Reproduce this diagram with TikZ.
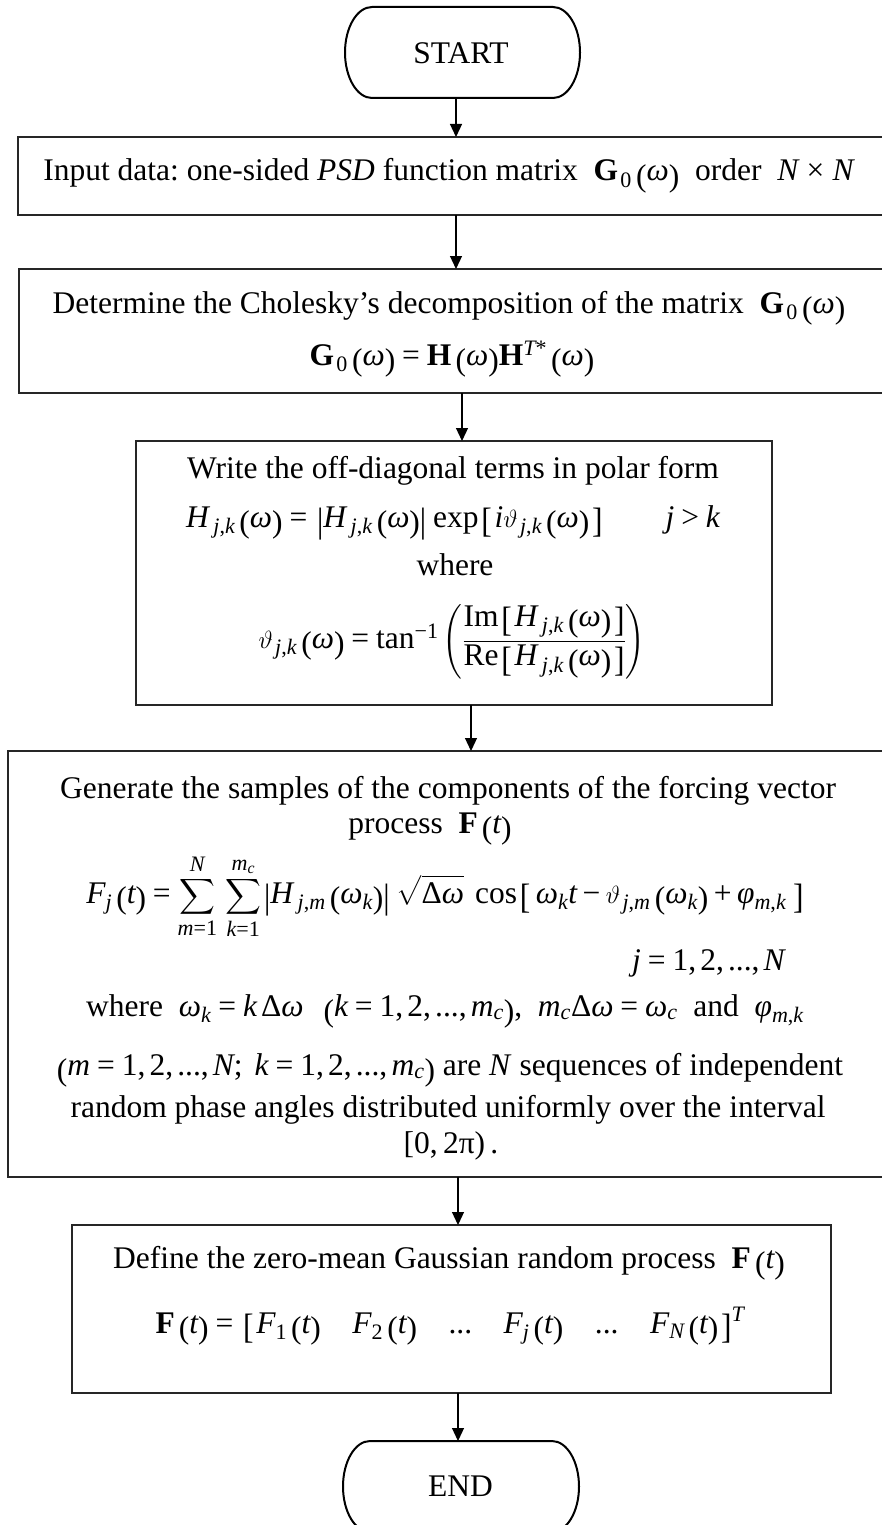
\documentclass[tikz,border=0pt]{standalone}
\usepackage{amsmath}
\usepackage{graphicx}
\usepackage{fontspec}
\setmainfont{Liberation Serif}
\usetikzlibrary{arrows.meta}
\frenchspacing
% Times-like italic math letters taken from the text font
\DeclareSymbolFont{tit}{TU}{\rmdefault}{m}{it}
\newcount\mcc
\mcc=65 \loop \Umathcode\mcc="7 \symtit\mcc \advance\mcc 1 \ifnum\mcc<91 \repeat
\mcc=97 \loop \Umathcode\mcc="7 \symtit\mcc \advance\mcc 1 \ifnum\mcc<123 \repeat
\Umathchardef\omega="0 \symtit "3C9
\Umathchardef\varphi="0 \symtit "3C6
% upright pieces set as text inside math
\newcommand\tu[1]{\textup{#1}}
\newcommand\eq{\mathrel{\tu{=}}}
\newcommand\gtr{\mathrel{\tu{>}}}
\newcommand\pl{\mathbin{\tu{+}}}
\newcommand\mi{\mathbin{\tu{−}}}
\newcommand\tms{\mathbin{\tu{×}}}
\newcommand\cm{\mathpunct{\tu{,}}}
\newcommand\sm{\mathpunct{\tu{;}}}
\newcommand\dts{\tu{...}}
\newcommand\Dl{\tu{Δ}}
\newcommand\fop[1]{\mathop{\tu{#1}}\nolimits}
\newcommand\lo[1]{\raisebox{-0.17em}{#1}}
\newcommand\pa[1]{\mkern3mu\mathopen{\lo{(}}#1\mathclose{\lo{)}}}
\newcommand\bk[1]{\mkern2mu\mathopen{\lo{\scalebox{1}[1.12]{[}}}\mkern2mu#1\mkern2mu\mathclose{\lo{\scalebox{1}[1.12]{]}}}}
\newcommand\av[1]{\mkern2mu\mathopen{\lo{\scalebox{1}[1.12]{|}}}#1\mathclose{\lo{\scalebox{1}[1.12]{|}}}\mkern2mu}
\newcommand\Hs[1]{H_{\mkern4mu #1}}
\newcommand\ths[1]{\vartheta_{\mkern2mu #1}}
\newcommand\jk{j\cm k}
\tikzset{
  box/.style={draw=black!85, line width=1.3pt, inner sep=0pt, outer sep=0pt},
  termbox/.style={inner sep=0pt, outer sep=0pt},
  termline/.style={draw=black, line width=2pt},
  arr/.style={draw=black, line width=1.2pt, -{Triangle[length=13pt,width=12pt]}},
  txt/.style={anchor=base, inner sep=0pt, font=\fontsize{31.5}{36}\selectfont},
  ttxt/.style={anchor=base, inner sep=0pt, font=\fontsize{31.5}{36}\selectfont},
}
\begin{document}
\begin{tikzpicture}[x=1pt, y=-1pt]
\useasboundingbox (0,0) rectangle (881,1525);
% boxes
\node[termbox, minimum width=235pt, minimum height=91pt] (start) at (462.5,52.5) {};
\node[box, minimum width=866pt, minimum height=78pt] (input) at (451,176) {};
\node[box, minimum width=865pt, minimum height=124pt] (det) at (451.5,331) {};
\node[box, minimum width=636pt, minimum height=264pt] (write) at (454,573) {};
\node[box, minimum width=876pt, minimum height=426pt] (gen) at (446,964) {};
\node[box, minimum width=759pt, minimum height=168pt] (def) at (451.5,1309) {};
\node[termbox, minimum width=236pt, minimum height=91pt] (end) at (461,1486.5) {};
% terminator outlines
\draw[termline] ([xshift=27pt]start.north west) -- ([xshift=-27pt]start.north east)
  arc[start angle=90, end angle=-90, x radius=27pt, y radius=45.5pt]
  -- ([xshift=27pt]start.south west)
  arc[start angle=270, end angle=90, x radius=27pt, y radius=45.5pt] -- cycle;
\draw[termline] ([xshift=27pt]end.north west) -- ([xshift=-27pt]end.north east)
  arc[start angle=90, end angle=-90, x radius=27pt, y radius=45.5pt]
  -- ([xshift=27pt]end.south west)
  arc[start angle=270, end angle=90, x radius=27pt, y radius=45.5pt] -- cycle;
% texts
\node[ttxt] (tstart) at (461,64) {START};
\node[ttxt] (tend) at (460.5,1496) {END};
\node[txt] (t1) at (448.5,181) {Input data: one-sided \textit{PSD} function matrix \ $\mathbf{G}_{\mkern2mu\tu{0}}\pa{\omega}$ \ order \ $N\mkern2mu\tms\mkern2mu N$};
\node[txt] (t2) at (449,313) {Determine the Cholesky’s decomposition of the matrix \ $\mathbf{G}_{\mkern2mu\tu{0}}\pa{\omega}$};
\node[txt] (t3) at (452,365) {$\mathbf{G}_{\mkern2mu\tu{0}}\pa{\omega}\eq\mathbf{H}\pa{\omega}\mathbf{H}^{T\tu{*}}\pa{\omega}$};
\node[txt] (t4) at (453,478) {Write the off-diagonal terms in polar form};
\node[txt] (t5) at (453,527) {$\Hs{\jk}\pa{\omega}\eq\av{\Hs{\jk}\pa{\omega}}\fop{exp}\bk{i\ths{\jk}\pa{\omega}}\qquad j\gtr k$};
\node[txt] (t6) at (455,575) {where};
\node[txt] (t7) at (452,648) {$\ths{\jk}\pa{\omega}\eq\fop{tan}^{\tu{−1}}\left(\dfrac{\fop{Im}\bk{\Hs{\jk}\pa{\omega}}}{\fop{Re}\bk{\Hs{\jk}\pa{\omega}}}\right)$};
\node[txt] (t8) at (448,798) {Generate the samples of the components of the forcing vector};
\node[txt] (t9) at (430,833) {process \ $\mathbf{F}\pa{t}$};
\node[txt] (t10) at (445,903) {$F_j\pa{t}\eq\displaystyle\sum_{m\eq\tu{1}}^{N}\,\sum_{k\eq\tu{1}}^{m_c}\av{\Hs{j\cm m}\pa{\omega_k}}\mkern3mu\sqrt{\Dl\omega}\;\fop{cos}\bk{\mkern2mu\omega_k t\mi\ths{j\cm m}\pa{\omega_k}\pl\varphi_{m\cm k}\mkern3mu}$};
\node[txt, anchor=base west] (t11) at (632,970) {$j\eq\tu{1}\cm\tu{2}\cm\dts\cm N$};
\node[txt] (t12) at (445,1016) {where \ $\omega_k\eq k\,\Dl\omega\ \ \pa{k\eq\tu{1}\cm\tu{2}\cm\dts\cm m_c}$, \ $m_c\Dl\omega\eq\omega_c$ \ and \ $\varphi_{m\cm k}$};
\node[txt] (t13) at (448,1075) {$\pa{m\eq\tu{1}\cm\tu{2}\cm\dts\cm N\sm\ k\eq\tu{1}\cm\tu{2}\cm\dts\cm m_c}$ are \textit{N} sequences of independent};
\node[txt] (t14) at (448,1117) {random phase angles distributed uniformly over the interval};
\node[txt] (t15) at (451,1153) {[0,\,2π)\,.};
\node[txt] (t16) at (449,1268) {Define the zero-mean Gaussian random process \ $\mathbf{F}\pa{t}$};
\node[txt] (t17) at (450,1333) {$\mathbf{F}\pa{t}\eq\bk{F_{\tu{1}}\pa{t}\quad F_{\tu{2}}\pa{t}\quad \dts\quad F_j\pa{t}\quad \dts\quad F_N\pa{t}}^{T}$};
% connectors
\coordinate (c1) at (456,0);
\coordinate (c3) at (462,0);
\coordinate (c4) at (471,0);
\coordinate (c5) at (458,0);
\draw[arr] (start.south -| c1) -- (input.north -| c1);
\draw[arr] (input.south -| c1) -- (det.north -| c1);
\draw[arr] (det.south -| c3) -- (write.north -| c3);
\draw[arr] (write.south -| c4) -- (gen.north -| c4);
\draw[arr] (gen.south -| c5) -- (def.north -| c5);
\draw[arr] (def.south -| c5) -- (end.north -| c5);
\end{tikzpicture}
\end{document}
